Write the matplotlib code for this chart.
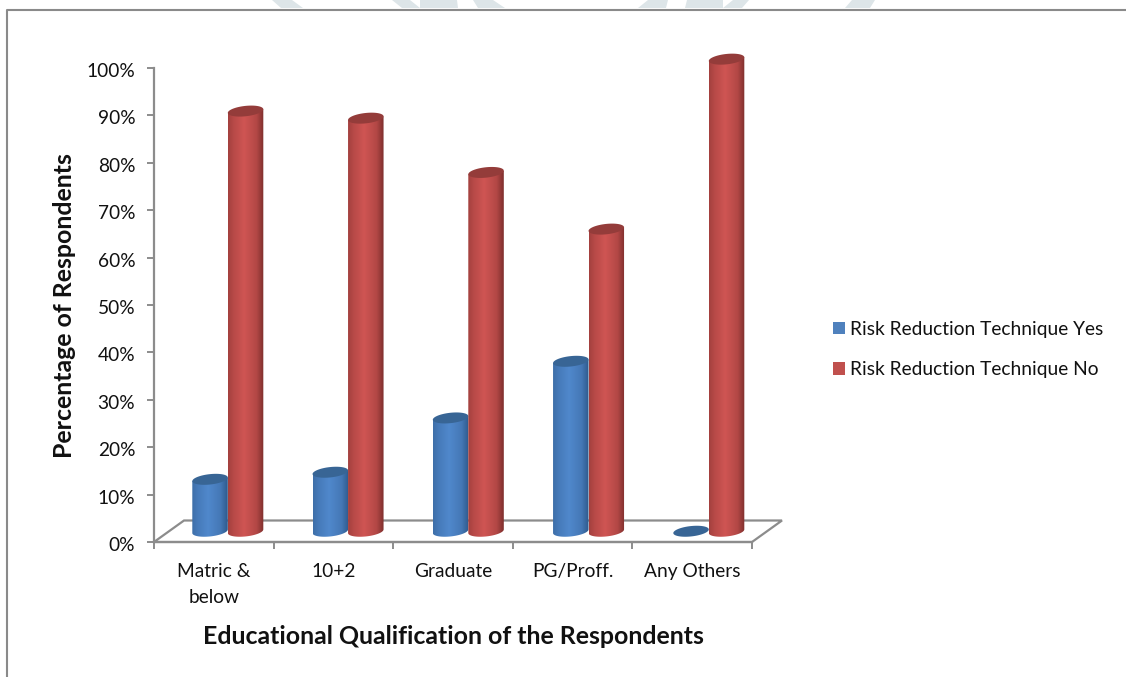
import numpy as np
import matplotlib
matplotlib.use("Agg")
import matplotlib.pyplot as plt
from matplotlib.colors import to_rgb
from matplotlib.lines import Line2D
from matplotlib.patches import Patch, Polygon
from matplotlib.transforms import ScaledTranslation

categories = ["Matric &\nbelow", "10+2", "Graduate", "PG/Proff.", "Any Others"]
yes_values = [11, 12.5, 24, 36, 0]
no_values = [89, 87.5, 76, 64, 100]
series_names = ["Risk Reduction Technique Yes", "Risk Reduction Technique No"]

W, H = 1126, 677
plt.rcParams["font.family"] = ["Lato", "DejaVu Sans"]

fig = plt.figure(figsize=(W / 100, H / 100), dpi=100)

# axes box runs from the 0% / 100% ticks and the first / last category tick
left, right, bottom, top = 154, 752, 542, 68
ax = fig.add_axes([left / W, 1 - bottom / H, (right - left) / W, (bottom - top) / H])

# pixel sizes turned into data units
ux = 5 / (right - left)
uy = 100 / (bottom - top)
floor_dx, floor_dy = 30 * ux, 21.5 * uy
bar_w = 35.5 * ux
bar_pitch = 120.25 * ux
cap_r = 5.2 * uy
cap_tilt = 1.8 * uy
depth_scale = 0.996  # bars stand mid-floor, so they come out slightly shorter


def gradient(edge, mid):
    edge, mid = np.array(to_rgb(edge)), np.array(to_rgb(mid))
    t = np.linspace(0, 1, 64)
    k = np.interp(t, [0, 0.15, 0.45, 0.8, 1], [0.45, 0.7, 1, 0.65, 0])
    return (edge + (mid - edge) * k[:, None])[None, :, :]


def cylinder(x0, value, edge, mid, cap, z):
    # tilted ellipses top and bottom, horizontal gradient on the body
    y0 = floor_dy / 2
    y1 = y0 + value * depth_scale
    w = bar_w / 2
    xm = x0 + w
    t = np.linspace(0, 2 * np.pi, 80)
    ax.add_patch(Polygon(np.column_stack([xm + w * np.cos(t), y1 + cap_r * np.sin(t) + cap_tilt * np.cos(t)]),
                         closed=True, fc=cap, ec="none", zorder=z + 0.1, clip_on=False))
    if value <= 0:
        return
    t = np.linspace(np.pi, 2 * np.pi, 40)
    outline = np.column_stack([xm + w * np.cos(t), y0 + cap_r * np.sin(t) + cap_tilt * np.cos(t)])
    outline = np.vstack([outline, [x0 + bar_w, y1 + cap_tilt], [x0, y1 - cap_tilt]])
    body = Polygon(outline, closed=True, fc="none", ec="none", clip_on=False)
    ax.add_patch(body)
    im = ax.imshow(gradient(edge, mid), extent=[x0, x0 + bar_w, y0 - 2 * cap_r, y1 + cap_tilt], aspect="auto",
                   zorder=z, interpolation="bilinear")
    im.set_clip_box(fig.bbox)
    im.set_clip_path(body)


# floor of the 3D plot
ax.add_patch(Polygon([(0, 0), (floor_dx, floor_dy), (5 + floor_dx, floor_dy), (5, 0)], closed=True,
                     fc="white", ec="#8c8c8c", lw=1.6, clip_on=False, zorder=1))

for i in range(len(categories)):
    gx = 0.5 + floor_dx / 2 - ux + i * bar_pitch
    cylinder(gx - bar_w, yes_values[i], "#2f5a8c", "#5088cc", "#386595", 2 + i * 0.01)
    cylinder(gx, no_values[i], "#7f2f2d", "#cf5553", "#943c3a", 3 + i * 0.01)

ax.set_xlim(0, 5)
ax.set_ylim(0, 100)
ax.set_xticks(range(6))
ax.set_xticklabels([])
ax.set_xticks(np.arange(len(categories)) + 0.5, categories, minor=True)
ax.set_yticks(range(0, 101, 10))
ax.set_yticklabels([str(v) + "%" for v in range(0, 101, 10)], fontsize=13.8, color="#111111")
ax.tick_params(axis="both", which="major", length=5, width=1.4, color="#8c8c8c")
ax.tick_params(axis="y", pad=8.5)
ax.tick_params(axis="x", which="minor", length=0, pad=15.4, labelsize=13.8, labelcolor="#111111")
for lbl in ax.get_xticklabels(minor=True):
    lbl.set_linespacing(1.62)
shift = ScaledTranslation(0, -1.5 / 72, fig.dpi_scale_trans)
for lbl in ax.get_yticklabels():
    lbl.set_transform(lbl.get_transform() + shift)
for side in ["top", "right"]:
    ax.spines[side].set_visible(False)
for side in ["left", "bottom"]:
    ax.spines[side].set_color("#8c8c8c")
    ax.spines[side].set_linewidth(1.6)
ax.patch.set_visible(False)

fig.text(453 / W, 1 - 636.5 / H, "Educational Qualification of the Respondents", fontsize=17.9,
         fontweight="bold", ha="center", va="center", color="#111111")
fig.text(65 / W, 1 - 306 / H, "Percentage of Respondents", fontsize=17.9, fontweight="bold",
         rotation=90, ha="center", va="center", color="#111111")

# legend
handles = [Patch(fc="#4f81bd", ec="none"), Patch(fc="#c0504d", ec="none")]
fig.legend(handles, series_names, loc="center left", bbox_to_anchor=(816 / W, 1 - 349.5 / H), frameon=False,
           fontsize=13.8, handlelength=0.63, handleheight=0.63, handletextpad=0.27, labelspacing=1.24,
           labelcolor="#111111")

# outer frame, open on the right and bottom
fig.add_artist(Line2D([7 / W, 7 / W, 1], [0, 1 - 9.5 / H, 1 - 9.5 / H], transform=fig.transFigure,
                      color="#8a8a8a", lw=1.5))

# faint shapes cut off by the top edge of the frame
page = [[(272, 0), (292, 0), (303, 8), (281, 8)],
        [(392, 0), (410, 0), (420, 8), (402, 8)],
        [(420, 0), (457, 0), (458, 8), (420, 8)],
        [(473, 0), (493, 0), (505, 8), (478, 8)],
        [(648, 0), (668, 0), (666, 8), (638, 8)],
        [(687, 0), (723, 0), (723, 8), (685, 8)],
        [(733, 0), (749, 0), (742, 8), (723, 8)],
        [(852, 0), (875, 0), (870, 8), (845, 8)]]
for shp in page:
    fig.add_artist(Polygon([(x / W, 1 - y / H) for x, y in shp], closed=True, transform=fig.transFigure,
                           fc="#dde5e8", ec="none"))

fig.savefig("out.png", dpi=100)
